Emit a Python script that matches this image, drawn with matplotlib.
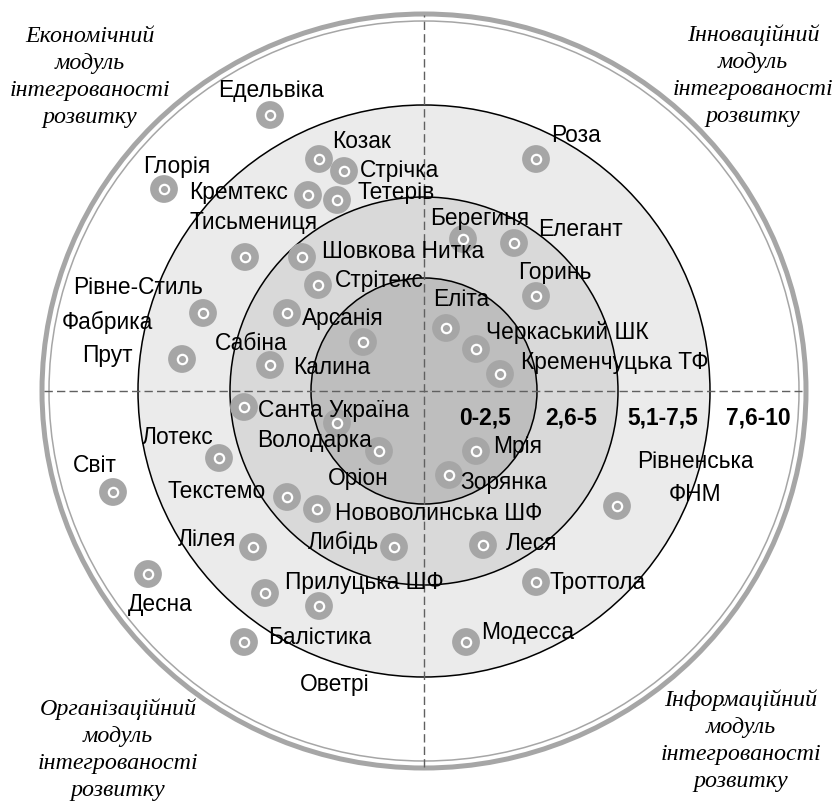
import numpy as np
import matplotlib.pyplot as plt
from matplotlib.patches import Circle, Ellipse

# zone boundaries (radius, px) and fills, inner to outer
zone_radius = [286, 194, 113]
zone_color = ['#ebebeb', '#d9d9d9', '#bebebe']
zone_labels = ['0-2,5', '2,6-5', '5,1-7,5', '7,6-10']
zone_label_x = [61, 147, 239, 334]

# enterprises: marker position (offset from centre, px, y up)
names = ['Едельвіка', 'Козак', 'Стрічка', 'Глорія', 'Кремтекс', 'Тетерів',
         'Тисьмениця', 'Шовкова Нитка', 'Стрітекс', 'Рівне-Стиль',
         'Фабрика\nПрут', 'Арсанія', 'Сабіна', 'Калина', 'Роза', 'Берегиня',
         'Елегант', 'Горинь', 'Еліта', 'Черкаський ШК', 'Кременчуцька ТФ',
         'Санта Україна', 'Володарка', 'Лотекс', 'Світ', 'Оріон', 'Текстемо',
         'Нововолинська ШФ', 'Лілея', 'Либідь', 'Десна', 'Прилуцька ШФ',
         'Балістика', 'Оветрі', 'Мрія', 'Зорянка', 'Рівненська\nФНМ', 'Леся',
         'Троттола', 'Модесса']
mark_x = [-154, -105, -80, -260, -116, -87, -179, -122, -106, -221,
          -242, -137, -154, -61, 112, 39, 90, 112, 22, 52, 76,
          -180, -45, -205, -311, -87, -137, -107, -171, -30, -276, -159,
          -180, -105, 52, 25, 193, 59, 112, 42]
mark_y = [276, 232, 220, 202, 196, 191, 134, 134, 106, 78,
          32, 78, 26, 49, 232, 152, 148, 95, 63, 42, 17,
          -16, -60, -67, -101, -32, -106, -118, -156, -156, -183, -202,
          -251, -215, -60, -84, -115, -154, -191, -251]
# label anchor (left x / centre y of caps, same frame)
label_x = [-206, -92, -64, -281, -235, -66, -234, -102, -89, -351,
           -317, -122, -209, -131, 127, 6, 114, 94, 9, 62, 97,
           -166, -167, -282, -351, -96, -256, -89, -246, -116, -296, -139,
           -156, -124, 69, 36, 271, 82, 126, 57]
label_y = [301, 249, 221, 224, 198, 198, 169, 139, 111, 104,
           52, 73, 48, 24, 256, 173, 161, 118, 91, 59, 29,
           -19, -49, -46, -74, -87, -101, -122, -149, -151, -214, -191,
           -247, -294, -56, -92, -87, -152, -191, -242]
label_center = [False] * len(names)
label_center[10] = True
label_center[36] = True

modules = ['Економічний\nмодуль\nінтегрованості\nрозвитку',
           'Інноваційний\nмодуль\nінтегрованості\nрозвитку',
           'Організаційний\nмодуль\nінтегрованості\nрозвитку',
           'Інформаційний\nмодуль\nінтегрованості\nрозвитку']
module_x = [-334, 329, -306, 317]
module_y = [314, 315, -359, -350]

cx, cy = 424, 391
fig = plt.figure(figsize=(8.36, 8.01), dpi=100)
ax = fig.add_axes([0, 0, 1, 1])
ax.set_xlim(-cx, 836 - cx)
ax.set_ylim(cy - 801, cy)
ax.set_aspect('equal')
ax.axis('off')

# zones
for r, c in zip(zone_radius, zone_color):
    ax.add_patch(Circle((0, 0), r, facecolor=c, edgecolor='black', lw=1.1, zorder=1))

# outer double ring
ax.add_patch(Ellipse((0, 0), 2 * 382, 2 * 377, fill=False, edgecolor='#a6a6a6', lw=3.6, zorder=2))
ax.add_patch(Ellipse((0, 0), 2 * 375, 2 * 370, fill=False, edgecolor='#a6a6a6', lw=1.1, zorder=2))

# quadrant axes
ax.plot([-380, 378], [0, 0], color='#606060', lw=1.0, dashes=(6, 3), zorder=2)
ax.plot([0, 0], [-376, 376], color='#606060', lw=1.0, dashes=(6, 3), zorder=2)

# markers
ax.scatter(mark_x, mark_y, s=400, color='#a6a6a6', edgecolors='none', zorder=3)
ax.scatter(mark_x, mark_y, s=45, facecolors='#a6a6a6', edgecolors='white', linewidths=1.6, zorder=4)

for n, x, y, c in zip(names, label_x, label_y, label_center):
    ax.text(x, y, n, fontsize=16.4, family='Liberation Sans', ha='center' if c else 'left',
            va='center', linespacing=1.55, zorder=5)

for t, x in zip(zone_labels, zone_label_x):
    ax.text(x, -27, t, fontsize=16.4, family='Liberation Sans', fontweight='bold',
            ha='center', va='center', zorder=5)

for t, x, y in zip(modules, module_x, module_y):
    ax.text(x, y, t, fontsize=17.3, family='Liberation Serif', style='italic',
            ha='center', va='center', linespacing=1.38, zorder=5)

fig.savefig('out.png', dpi=100)
